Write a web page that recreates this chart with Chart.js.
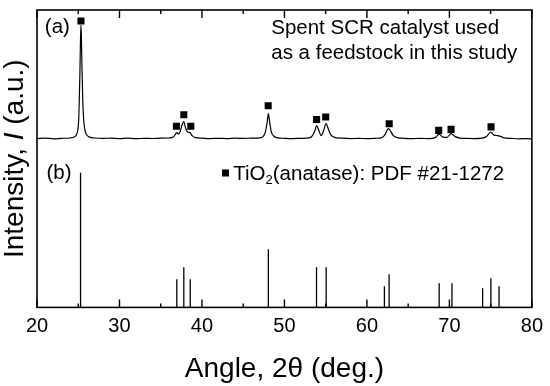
<!DOCTYPE html>
<html>
<head>
<meta charset="utf-8">
<script src="https://cdn.jsdelivr.net/npm/chart.js@4/dist/chart.umd.min.js"></script>
<style>
  html, body { margin: 0; padding: 0; background: #fff; }
  #wrap { width: 550px; height: 386px; }
</style>
</head>
<body>
<div id="wrap"><canvas id="xrdChart" width="550" height="386"></canvas></div>
<script>
var scanAngle = [20, 21, 22, 23, 24, 24.5, 24.8, 24.95, 25.05, 25.12, 25.2, 25.27, 25.33, 25.39, 25.46, 25.55, 25.65, 25.78, 26.0, 26.4,
  27, 28, 29, 30, 31, 32, 33, 34, 35, 36, 36.5, 36.75, 36.95, 37.15, 37.35, 37.6, 37.8, 38.0, 38.25, 38.55, 38.8, 39.2,
  40, 41, 42, 43, 44, 45, 46, 47, 47.4, 47.7, 47.9, 48.05, 48.2, 48.4, 48.7, 49.2,
  50, 51, 52, 53, 53.4, 53.7, 53.9, 54.15, 54.45, 54.75, 55.05, 55.3, 55.6, 56,
  57, 58, 59, 60, 61, 61.8, 62.2, 62.6, 62.9, 63.2, 63.7, 64.5, 65.5, 66.5, 67.5, 68.3, 68.75, 69.2, 69.7, 70.2, 70.7, 71.3,
  72, 73, 74, 74.5, 75.0, 75.4, 75.8, 76.1, 76.6, 77.5, 78.5, 79.5, 80];
var scanCounts = [168, 168.5, 167.8, 168.3, 168.6, 169.5, 172, 177, 186, 204, 232, 265, 281, 266, 236, 206, 188, 178, 172, 169.5,
  168.6, 168.2, 168.5, 168, 168.4, 167.9, 168.3, 168.1, 168.4, 168.6, 169.5, 172, 174, 172.5, 175, 182, 185, 179, 174.5, 174, 171, 169,
  168.4, 168, 168.3, 168, 168.4, 168.2, 168.5, 168.7, 170, 175, 184, 193, 185, 175, 170.5, 168.8,
  168.3, 168, 168.3, 168.8, 171, 176, 181, 176.5, 171, 176, 183, 178, 172, 169.5,
  168.4, 168, 168.2, 168, 168.3, 169, 172, 178, 175, 171, 169, 168.3, 168, 168.2, 168, 169, 172.5, 169.5, 169.2, 173, 170, 168.5,
  168.2, 168, 168.5, 170, 174.5, 171.5, 171, 170.5, 168.8, 168.2, 167.8, 168, 167.7];

// anatase peak markers above pattern (a)
var markAngle = [25.33, 36.9, 37.8, 38.65, 48.03, 53.9, 55.0, 62.7, 68.7, 70.2, 75.05];
var markLevel = [285, 180.3, 191.7, 180.3, 200.7, 187, 189.5, 182.8, 176.2, 177.2, 179.7];

// (b) reference sticks, PDF #21-1272
var pdfAngle = [25.28, 36.95, 37.80, 38.58, 48.05, 53.89, 55.06, 62.12, 62.69, 68.76, 70.31, 74.03, 75.03, 76.02];
var pdfHeight = [134, 28, 40, 28, 58, 40, 40, 21, 33, 24, 24, 19, 29, 21];

var xTicks = [20, 30, 40, 50, 60, 70, 80];

var scanData = scanAngle.map(function (a, i) { return { x: a, y: scanCounts[i] }; });
var markData = markAngle.map(function (a, i) { return { x: a, y: markLevel[i] }; });
var stickData = [];
pdfAngle.forEach(function (a, i) {
  stickData.push({ x: a, y: 0 });
  stickData.push({ x: a, y: pdfHeight[i] });
  stickData.push({ x: a, y: null });
});

var FONT = '"Liberation Sans", Arial, Helvetica, sans-serif';

// frame, inward ticks, axis title and notes
var framePlugin = {
  id: 'frame',
  afterDatasetsDraw: function (chart) {
    var ctx = chart.ctx;
    var a = chart.chartArea;
    var xs = chart.scales.x;
    ctx.save();
    ctx.strokeStyle = '#000';
    ctx.lineWidth = 1.6;
    ctx.strokeRect(a.left, a.top, a.right - a.left, a.bottom - a.top);
    ctx.lineWidth = 1.4;
    for (var v = 20; v <= 80; v += 5) {
      var px = xs.getPixelForValue(v);
      var len = v % 10 === 0 ? 8 : 4;
      ctx.beginPath();
      ctx.moveTo(px, a.bottom); ctx.lineTo(px, a.bottom - len);
      ctx.moveTo(px, a.top); ctx.lineTo(px, a.top + len);
      ctx.stroke();
    }

    ctx.fillStyle = '#000';
    ctx.textBaseline = 'alphabetic';
    ctx.textAlign = 'left';
    ctx.font = '20.5px ' + FONT;
    ctx.fillText('(a)', xs.getPixelForValue(20.95), a.top + 23);
    ctx.fillText('(b)', xs.getPixelForValue(21.15), a.top + 169);
    var nx = xs.getPixelForValue(48.4);
    ctx.fillText('Spent SCR catalyst used', nx, a.top + 24);
    ctx.fillText('as a feedstock in this study', nx, a.top + 49);

    // legend: square + TiO2(anatase)
    var lx = xs.getPixelForValue(43.8);
    var ly = a.top + 170;
    ctx.fillRect(xs.getPixelForValue(42.85) - 3.5, ly - 10.5, 7, 7);
    ctx.fillText('TiO', lx, ly);
    var w = ctx.measureText('TiO').width;
    ctx.font = '13px ' + FONT;
    ctx.fillText('2', lx + w, ly + 4);
    var w2 = ctx.measureText('2').width;
    ctx.font = '20.5px ' + FONT;
    ctx.fillText('(anatase): PDF #21-1272', lx + w + w2, ly);

    // y title with italic I
    ctx.translate(15, (a.top + a.bottom) / 2);
    ctx.rotate(-Math.PI / 2);
    ctx.textBaseline = 'middle';
    var p1 = 'Intensity, ', p2 = 'I', p3 = ' (a.u.)';
    ctx.font = '28px ' + FONT;
    var w1 = ctx.measureText(p1).width, w3 = ctx.measureText(p3).width;
    ctx.font = 'italic 28px ' + FONT;
    var wi = ctx.measureText(p2).width;
    var sx = -(w1 + wi + w3) / 2;
    ctx.font = '28px ' + FONT;
    ctx.fillText(p1, sx, 0);
    ctx.font = 'italic 28px ' + FONT;
    ctx.fillText(p2, sx + w1, 0);
    ctx.font = '28px ' + FONT;
    ctx.fillText(p3, sx + w1 + wi, 0);
    ctx.restore();
  }
};

var ctx1 = document.getElementById('xrdChart');
var xrdChart = new Chart(ctx1, {
  type: 'line',
  data: {
    datasets: [{
      label: 'Spent SCR catalyst',
      data: scanData,
      borderColor: '#000',
      borderWidth: 1.2,
      pointRadius: 0,
      cubicInterpolationMode: 'monotone',
      fill: false
    }, {
      label: 'anatase',
      type: 'scatter',
      data: markData,
      pointStyle: 'rect',
      pointRadius: 5,
      borderWidth: 0,
      backgroundColor: '#000',
      showLine: false
    }, {
      label: 'PDF #21-1272',
      data: stickData,
      borderColor: '#000',
      borderWidth: 1.3,
      pointRadius: 0,
      spanGaps: false,
      tension: 0
    }]
  },
  options: {
    responsive: false,
    animation: false,
    events: [],
    layout: { padding: { left: 37, right: 17, top: 10, bottom: 0 } },
    plugins: { legend: { display: false }, tooltip: { enabled: false } },
    scales: {
      x: {
        type: 'linear',
        min: 20,
        max: 80,
        afterBuildTicks: function (s) { s.ticks = xTicks.map(function (v) { return { value: v }; }); },
        grid: { display: false, drawTicks: false, tickLength: 0 },
        border: { display: false },
        ticks: { color: '#000', padding: 7, font: { family: FONT, size: 20 } },
        title: {
          display: true,
          text: 'Angle, 2\u03b8 (deg.)',
          color: '#000',
          padding: { top: 7, bottom: 0 },
          font: { family: FONT, size: 28 }
        }
      },
      y: {
        display: false,
        min: 0,
        max: 296
      }
    }
  },
  plugins: [framePlugin]
});
</script>
</body>
</html>
